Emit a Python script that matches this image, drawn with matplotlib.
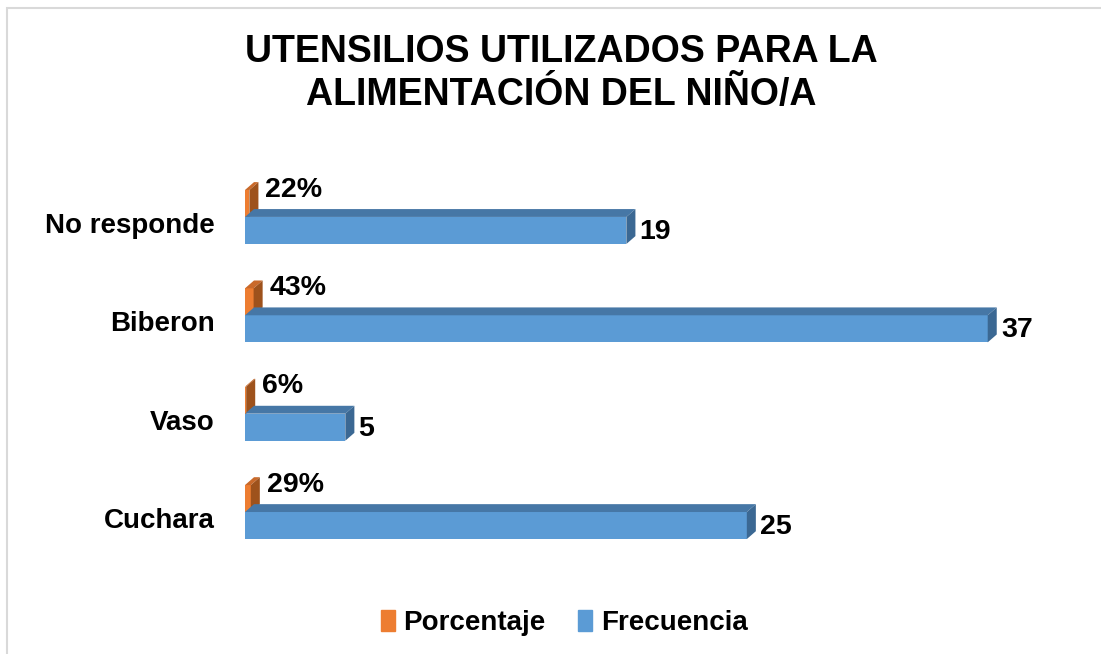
import matplotlib
matplotlib.use("Agg")
import matplotlib.pyplot as plt
import matplotlib.patches as patches

plt.rcParams['font.family'] = ['Liberation Sans', 'DejaVu Sans']
plt.rcParams['font.weight'] = 'bold'

# datos
categorias = ['Cuchara', 'Vaso', 'Biberon', 'No responde']
frecuencia = [25, 5, 37, 19]
porcentaje = [0.29, 0.06, 0.43, 0.22]
etiquetas_pct = ['29%', '6%', '43%', '22%']
titulo = 'UTENSILIOS UTILIZADOS PARA LA\nALIMENTACIÓN DEL NIÑO/A'

# profundidad 3D (en unidades de datos)
DX = 0.45
DY = 0.08
ALTO = 0.275


def barra_3d(ax, valores, centros, front, top, side):
    """barras horizontales con caras superior y lateral"""
    ax.barh(centros, valores, height=ALTO, color=front, zorder=2)
    for v, c in zip(valores, centros):
        y0, y1 = c - ALTO / 2, c + ALTO / 2
        cara_sup = patches.Polygon([(0, y1), (v, y1), (v + DX, y1 + DY), (DX, y1 + DY)],
                                   closed=True, facecolor=top, edgecolor='none', zorder=2)
        cara_lat = patches.Polygon([(v, y0), (v + DX, y0 + DY), (v + DX, y1 + DY), (v, y1)],
                                   closed=True, facecolor=side, edgecolor='none', zorder=2)
        ax.add_patch(cara_sup)
        ax.add_patch(cara_lat)


fig = plt.figure(figsize=(11.01, 6.54), dpi=100)
ax = fig.add_axes([0.2225, 0.1131, 0.7293, 0.6422])

pos = list(range(len(categorias)))
c_pct = [p + 0.198 for p in pos]
c_frec = [p - 0.076 for p in pos]

barra_3d(ax, porcentaje, c_pct, '#ed7d31', '#c9692a', '#9e521c')
barra_3d(ax, frecuencia, c_frec, '#5b9bd5', '#4677a6', '#3b6893')

for v, c, t in zip(porcentaje, c_pct, etiquetas_pct):
    ax.annotate(t, (v + DX, c), xytext=(5, 10), textcoords='offset points',
                ha='left', va='center', fontsize=20.5, fontweight='bold')
for v, c in zip(frecuencia, c_frec):
    ax.annotate(str(v), (v + DX, c), xytext=(3, -1), textcoords='offset points',
                ha='left', va='center', fontsize=20.5, fontweight='bold')

ax.set_xlim(0, 40)
ax.set_ylim(-0.63, 3.64)
ax.set_xticks([])
ax.set_yticks(pos)
ax.set_yticklabels(categorias, fontsize=20, fontweight='bold')
ax.tick_params(axis='y', length=0, pad=22)
for s in ax.spines.values():
    s.set_visible(False)

fig.text(0.5095, 1 - 73 / 654, titulo, ha='center', va='center', fontsize=27,
         fontweight='bold', linespacing=1.25)

handles = [patches.Patch(color='#ed7d31', label='Porcentaje'),
           patches.Patch(color='#5b9bd5', label='Frecuencia')]
fig.legend(handles=handles, loc='center', bbox_to_anchor=(564 / 1101, 1 - 623 / 654),
           ncol=2, frameon=False, handlelength=0.5, handleheight=0.8,
           handletextpad=0.3, columnspacing=1.2, prop={'weight': 'bold', 'size': 20})

# marco del grafico
marco = patches.Rectangle((7 / 1101, -0.05), 1.1, 1 - 8 / 654 + 0.05, transform=fig.transFigure,
                          fill=False, edgecolor='#d9d9d9', linewidth=1.5)
fig.add_artist(marco)

fig.savefig('out.png', dpi=100)
